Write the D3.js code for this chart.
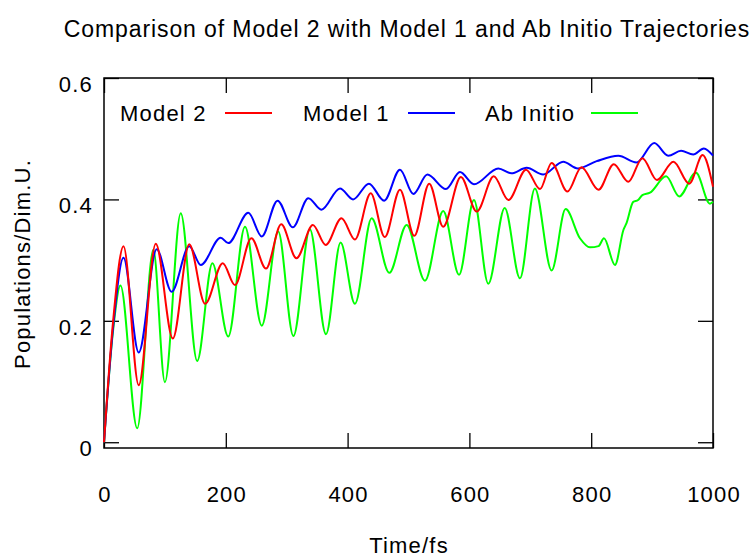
<!DOCTYPE html>
<html>
<head>
<meta charset="utf-8">
<script src="https://cdn.jsdelivr.net/npm/d3@7"></script>
<style>
    body { margin: 0; background: #ffffff; }
    #chart { width: 755px; height: 560px; }
    text { font-family: "Liberation Sans", Arial, sans-serif; fill: #000000; }
    .chartTitle { font-size: 23px; letter-spacing: 0.9px; }
    .tickLabel { font-size: 22px; letter-spacing: 1.2px; }
    .axisLabel { font-size: 22px; letter-spacing: 1.2px; }
    .legendText { font-size: 22px; letter-spacing: 1.2px; }
</style>
</head>
<body>
<div id="chart"><svg width="755" height="560"></svg></div>
<script>

// values (time in fs, population in dim. units)
const model2Time = [0, 15, 32, 57, 85, 113, 140, 166, 195, 215, 242, 266, 291, 316, 343, 364, 390, 412, 438, 461, 486, 509.5, 534, 557, 586, 612, 640, 664, 693, 716, 735, 761, 784, 812, 837, 861, 884, 908, 935, 961, 983, 1000];
const model2Pop = [0, 0.20, 0.323, 0.094, 0.327, 0.171, 0.326, 0.228, 0.295, 0.259, 0.336, 0.286, 0.359, 0.303, 0.358, 0.325, 0.369, 0.334, 0.410, 0.338, 0.416, 0.340, 0.426, 0.355, 0.437, 0.380, 0.438, 0.399, 0.449, 0.417, 0.460, 0.413, 0.453, 0.416, 0.458, 0.429, 0.468, 0.432, 0.462, 0.426, 0.473, 0.421];

const model1Time = [0, 15, 32, 57, 86.5, 111, 140, 159, 191.5, 204, 237, 259, 285, 310, 335.5, 357, 387.5, 409, 435, 460, 486, 508, 531, 561.5, 584.5, 607.5, 647.5, 669, 694, 721, 754, 778, 809, 844.5, 874.5, 903.5, 926.5, 947.5, 967.5, 985, 1000];
const model1Pop = [0, 0.19, 0.304, 0.148, 0.318, 0.248, 0.323, 0.292, 0.337, 0.328, 0.378, 0.339, 0.398, 0.354, 0.402, 0.383, 0.418, 0.400, 0.426, 0.398, 0.449, 0.409, 0.441, 0.417, 0.445, 0.425, 0.451, 0.443, 0.452, 0.441, 0.462, 0.451, 0.463, 0.472, 0.461, 0.493, 0.472, 0.480, 0.474, 0.484, 0.472];

const abInitioTime = [0, 15, 27, 54.5, 81, 100, 126, 153, 178, 204, 231.5, 259, 286, 311, 338, 364.5, 388.5, 412, 439.5, 468.5, 497, 527, 557, 583, 607.5, 631, 658, 683, 707.5, 735, 758, 781.5, 798, 812, 821, 839, 853, 858, 869, 877, 884, 896.5, 923, 944.5, 972, 995, 1000];
const abInitioPop = [0, 0.185, 0.258, 0.023, 0.317, 0.099, 0.377, 0.134, 0.295, 0.174, 0.355, 0.192, 0.347, 0.175, 0.351, 0.178, 0.329, 0.228, 0.369, 0.279, 0.358, 0.266, 0.381, 0.276, 0.399, 0.261, 0.386, 0.270, 0.418, 0.283, 0.384, 0.336, 0.321, 0.323, 0.336, 0.292, 0.350, 0.361, 0.396, 0.399, 0.407, 0.411, 0.438, 0.405, 0.444, 0.393, 0.396];

const xTicks = [0, 200, 400, 600, 800, 1000];
const yTicks = [0, 0.2, 0.4, 0.6];
const yTickLabels = ["0", "0.2", "0.4", "0.6"];

const seriesNames = ["Model 2", "Model 1", "Ab Initio"];
const seriesColors = ["#ff0000", "#0000ff", "#00ff00"];

/**********************
***** BASIC SETUP *****
**********************/

const svg = d3.select("#chart").select("svg");

const margin = {top: 78, left: 104, right: 42, bottom: 112};
const width = 755;
const height = 560;
const plotWidth = width - margin.left - margin.right;
const plotHeight = height - margin.top - margin.bottom;

/***********************
***** X & Y SCALES *****
***********************/

const xScale = d3.scaleLinear()
    .domain([0, 1000])
    .range([0, plotWidth]);

const yScale = d3.scaleLinear()
    .domain([-0.0095, 0.6])
    .range([plotHeight, 0]);

const plot = svg.append("g")
    .attr("transform", `translate(${margin.left}, ${margin.top})`);

/*********************
***** X & Y AXES *****
*********************/

// gnuplot style: ticks point inwards and are mirrored on all four sides
const TICK = 15;

plot.append("g")
    .attr("transform", `translate(0, ${plotHeight})`)
    .call(d3.axisBottom(xScale).tickValues(xTicks).tickSize(-TICK).tickFormat(""))
    .call(g => g.select(".domain").remove());

plot.append("g")
    .call(d3.axisTop(xScale).tickValues(xTicks).tickSize(-TICK).tickFormat(""))
    .call(g => g.select(".domain").remove());

plot.append("g")
    .call(d3.axisLeft(yScale).tickValues(yTicks).tickSize(-TICK).tickFormat(""))
    .call(g => g.select(".domain").remove());

plot.append("g")
    .attr("transform", `translate(${plotWidth}, 0)`)
    .call(d3.axisRight(yScale).tickValues(yTicks).tickSize(-TICK).tickFormat(""))
    .call(g => g.select(".domain").remove());

plot.selectAll(".tick line")
    .attr("stroke", "#000000")
    .attr("stroke-width", 1.3);

// frame
plot.append("rect")
    .attr("x", 0)
    .attr("y", 0)
    .attr("width", plotWidth)
    .attr("height", plotHeight)
    .attr("fill", "none")
    .attr("stroke", "#000000")
    .attr("stroke-width", 1.5);

// tick labels
plot.selectAll(".xTickLabel")
    .data(xTicks)
    .enter()
    .append("text")
    .attr("class", "tickLabel")
    .attr("x", d => xScale(d) + 1)
    .attr("y", plotHeight + 54)
    .attr("text-anchor", "middle")
    .text(d => d);

plot.selectAll(".yTickLabel")
    .data(yTicks)
    .enter()
    .append("text")
    .attr("class", "tickLabel")
    .attr("x", -11)
    .attr("y", d => yScale(d) + 14)
    .attr("text-anchor", "end")
    .text((d, i) => yTickLabels[i]);

/****************
***** LINES *****
*****************/

const series = [
    {name: seriesNames[0], color: seriesColors[0], values: model2Time.map((t, i) => ({t: t, v: model2Pop[i]}))},
    {name: seriesNames[1], color: seriesColors[1], values: model1Time.map((t, i) => ({t: t, v: model1Pop[i]}))},
    {name: seriesNames[2], color: seriesColors[2], values: abInitioTime.map((t, i) => ({t: t, v: abInitioPop[i]}))}
];

const line = d3.line()
    .x(d => xScale(d.t))
    .y(d => yScale(d.v))
    .curve(d3.curveMonotoneX);

// draw in reverse so Model 2 (red) ends up on top
plot.selectAll(".line")
    .data(series.slice().reverse())
    .enter()
    .append("path")
    .attr("class", "line")
    .attr("fill", "none")
    .attr("stroke", d => d.color)
    .attr("stroke-width", 2)
    .attr("d", d => line(d.values));

/****************
***** LEGEND ****
****************/

const legendX = [120, 303, 485];
const legendLineX = [225, 408, 591];

const legend = svg.append("g").attr("id", "legend");

series.forEach((s, i) => {
    legend.append("text")
        .attr("class", "legendText")
        .attr("x", legendX[i])
        .attr("y", 121)
        .text(s.name);
    legend.append("line")
        .attr("x1", legendLineX[i])
        .attr("x2", legendLineX[i] + 47)
        .attr("y1", 113)
        .attr("y2", 113)
        .attr("stroke", s.color)
        .attr("stroke-width", 2);
});

/*************************
***** TITLE, LABELS ******
*************************/

svg.append("text")
    .attr("class", "chartTitle")
    .attr("x", 407)
    .attr("y", 37)
    .attr("text-anchor", "middle")
    .text("Comparison of Model 2 with Model 1 and Ab Initio Trajectories");

svg.append("text")
    .attr("class", "axisLabel")
    .attr("x", 409)
    .attr("y", 553)
    .attr("text-anchor", "middle")
    .text("Time/fs");

svg.append("text")
    .attr("class", "axisLabel")
    .attr("transform", "translate(30, 264) rotate(-90)")
    .attr("text-anchor", "middle")
    .text("Populations/Dim.U.");

</script>
</body>
</html>
